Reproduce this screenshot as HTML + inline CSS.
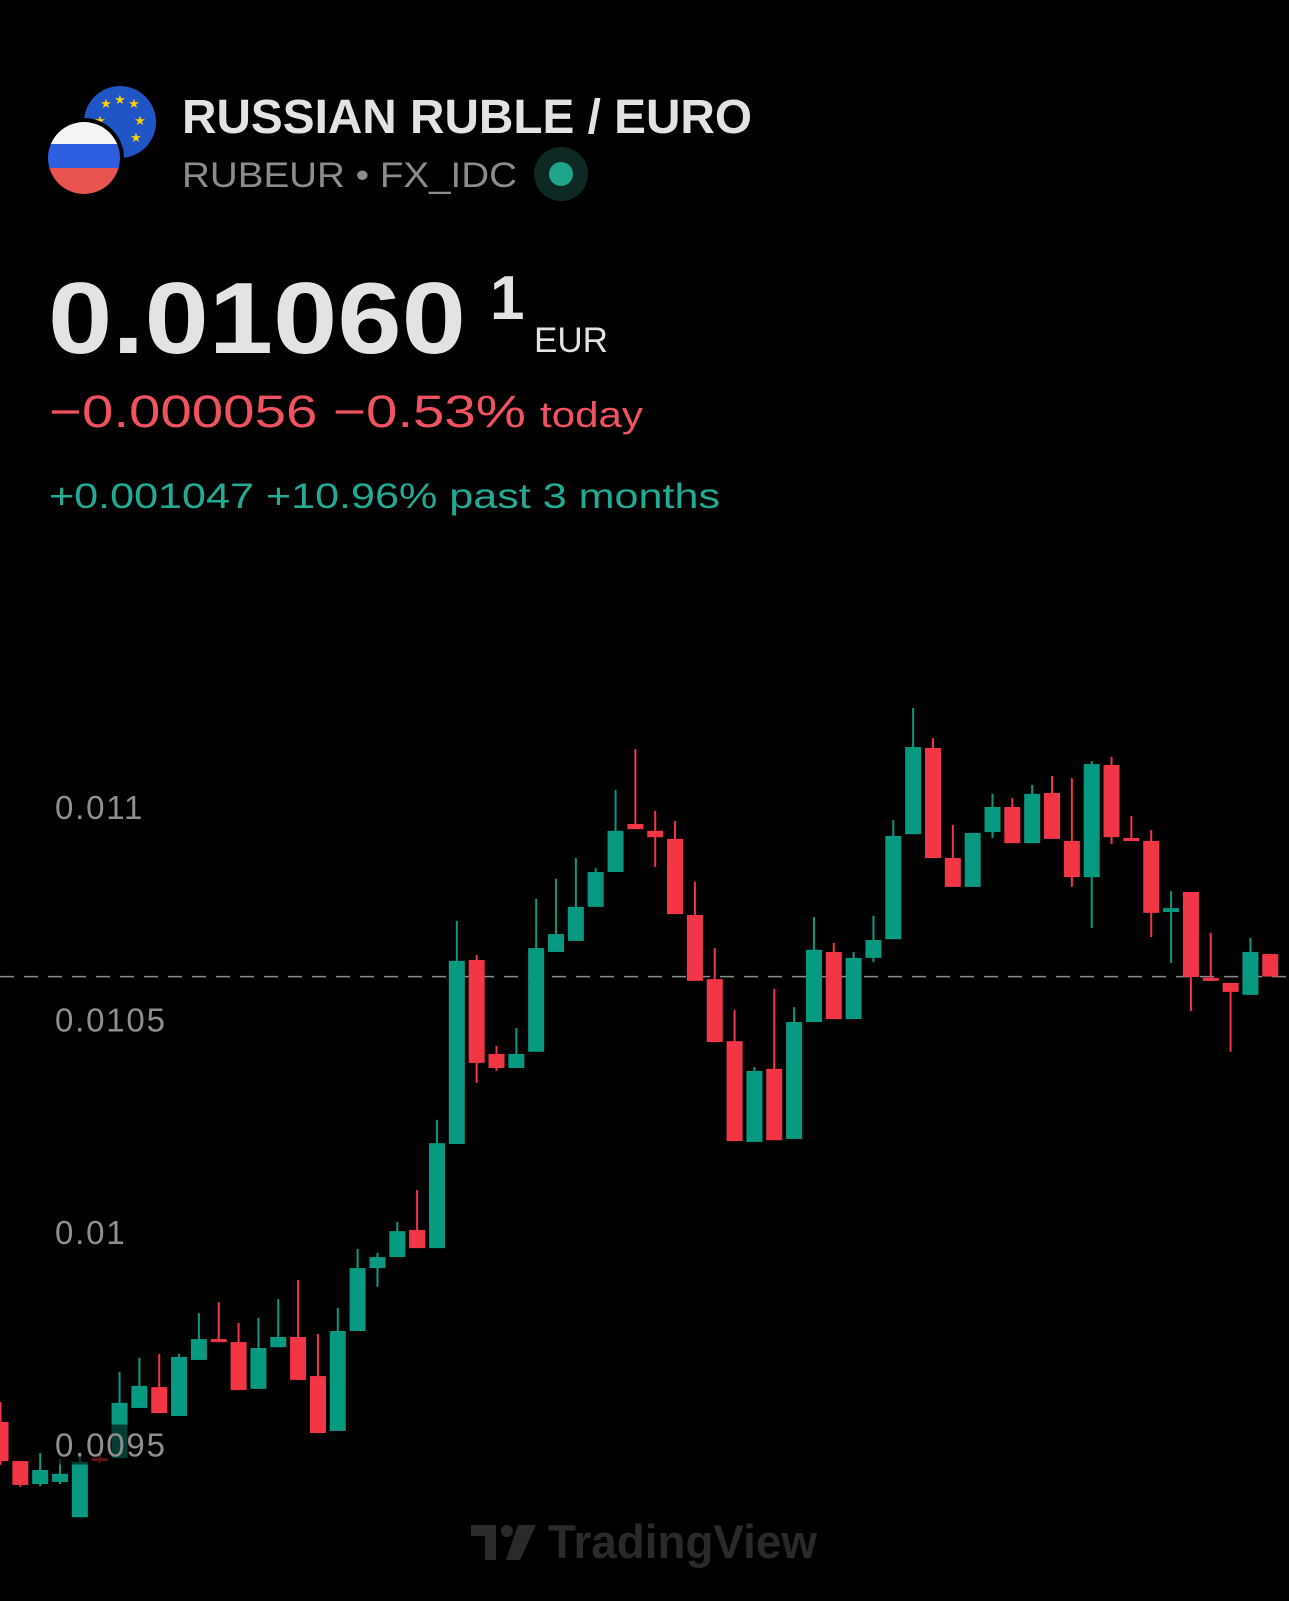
<!DOCTYPE html>
<html><head><meta charset="utf-8">
<style>
html,body{margin:0;padding:0;background:#000;}
body{width:1289px;height:1601px;overflow:hidden;position:relative;font-family:"Liberation Sans",sans-serif;}
.t{position:absolute;white-space:nowrap;line-height:1;}
</style></head>
<body>
<svg width="1289" height="1601" style="position:absolute;left:0;top:0" font-family="Liberation Sans,sans-serif">
  <g>
    <circle cx="120" cy="122" r="36" fill="#1f55c4"/>
    <g fill="#ffd200" font-size="13" font-family="DejaVu Sans,sans-serif" text-anchor="middle">
      <text x="120" y="104">★</text><text x="106" y="108">★</text><text x="134" y="108">★</text>
      <text x="140" y="125">★</text><text x="136" y="142">★</text><text x="100" y="125">★</text>
    </g>
    <circle cx="84" cy="158" r="40" fill="#000"/>
    <clipPath id="ru"><circle cx="84" cy="158" r="36"/></clipPath>
    <g clip-path="url(#ru)">
      <rect x="44" y="118" width="80" height="26" fill="#f4f4f4"/>
      <rect x="44" y="144" width="80" height="24" fill="#2e5fe0"/>
      <rect x="44" y="168" width="80" height="30" fill="#e8524f"/>
    </g>
  </g>
  <g>
    <circle cx="561" cy="174" r="27" fill="#0e2824"/>
    <circle cx="561" cy="174" r="12" fill="#1fa58c"/>
  </g>
  <text x="182" y="133" font-size="48" font-weight="bold" fill="#e3e3e3" textLength="570" lengthAdjust="spacingAndGlyphs">RUSSIAN RUBLE / EURO</text>
  <text x="182" y="187" font-size="35" fill="#8c8c8c" textLength="335" lengthAdjust="spacingAndGlyphs">RUBEUR  •  FX_IDC</text>
  <text x="48" y="353" font-size="101" font-weight="bold" fill="#e3e3e3" textLength="418" lengthAdjust="spacingAndGlyphs">0.01060</text>
  <text x="490" y="319" font-size="62" font-weight="bold" fill="#e3e3e3">1</text>
  <text x="534" y="352" font-size="35" fill="#e3e3e3" textLength="74" lengthAdjust="spacingAndGlyphs">EUR</text>
  <text x="49" y="427" font-size="45" fill="#f0525f" textLength="477" lengthAdjust="spacingAndGlyphs">−0.000056 −0.53%</text>
  <text x="540" y="427" font-size="36" fill="#f0525f" textLength="103" lengthAdjust="spacingAndGlyphs">today</text>
  <text x="49" y="508" font-size="35" fill="#22ab94" textLength="671" lengthAdjust="spacingAndGlyphs">+0.001047 +10.96% past 3 months</text>
  <g id="chart"></g>
  <g fill="#2a2a2a">
    <path d="M471 1525 H496 V1560 H485 V1536 H471 Z"/>
    <circle cx="507" cy="1531" r="6"/>
    <path d="M518 1525 H536 L520 1560 H506 Z"/>
    <text x="548" y="1558" font-size="47" font-weight="bold" textLength="269" lengthAdjust="spacingAndGlyphs">TradingView</text>
  </g>
</svg>

<script>
const opens  = [0.009553,0.009461,0.009407,0.009412,0.009329,0.009468,0.009468,0.009586,0.009635,0.009567,0.009699,0.009748,0.009741,0.009631,0.009729,0.009753,0.009661,0.009532,0.009767,0.009915,0.009941,0.010005,0.009962,0.010207,0.010640,0.010419,0.010386,0.010424,0.010659,0.010685,0.010765,0.010847,0.010960,0.010944,0.010925,0.010746,0.010595,0.010449,0.010212,0.010384,0.010219,0.010494,0.010659,0.010501,0.010645,0.010689,0.010936,0.011139,0.010880,0.010812,0.010941,0.011000,0.010915,0.011033,0.010920,0.010835,0.011099,0.010927,0.010920,0.010753,0.010800,0.010598,0.010586,0.010558,0.010654];
const highs  = [0.009600,0.009461,0.009480,0.009466,0.009480,0.009480,0.009671,0.009704,0.009713,0.009713,0.009809,0.009835,0.009786,0.009798,0.009842,0.009887,0.009760,0.009821,0.009960,0.009951,0.010024,0.010099,0.010264,0.010732,0.010652,0.010438,0.010480,0.010784,0.010831,0.010880,0.010856,0.011040,0.011136,0.010991,0.010967,0.010824,0.010668,0.010522,0.010388,0.010572,0.010529,0.010741,0.010680,0.010659,0.010744,0.010969,0.011233,0.011162,0.010958,0.010939,0.011031,0.011021,0.011052,0.011073,0.011068,0.011108,0.011118,0.010979,0.010946,0.010802,0.010800,0.010704,0.010586,0.010692,0.010654];
const lows   = [0.009452,0.009400,0.009402,0.009407,0.009329,0.009456,0.009468,0.009586,0.009574,0.009567,0.009699,0.009744,0.009628,0.009631,0.009729,0.009652,0.009527,0.009532,0.009767,0.009871,0.009941,0.009962,0.009962,0.010207,0.010351,0.010379,0.010386,0.010424,0.010659,0.010685,0.010765,0.010847,0.010948,0.010859,0.010748,0.010591,0.010447,0.010214,0.010212,0.010216,0.010219,0.010494,0.010501,0.010501,0.010635,0.010689,0.010936,0.010880,0.010812,0.010812,0.010927,0.010915,0.010915,0.010925,0.010812,0.010715,0.010913,0.010920,0.010694,0.010633,0.010520,0.010591,0.010424,0.010558,0.010601];
const closes = [0.009461,0.009405,0.009440,0.009431,0.009459,0.009464,0.009598,0.009638,0.009574,0.009706,0.009748,0.009744,0.009628,0.009727,0.009753,0.009652,0.009527,0.009767,0.009915,0.009941,0.010002,0.009962,0.010209,0.010638,0.010398,0.010386,0.010419,0.010668,0.010701,0.010765,0.010847,0.010944,0.010948,0.010929,0.010748,0.010591,0.010447,0.010214,0.010379,0.010216,0.010494,0.010664,0.010501,0.010645,0.010687,0.010932,0.011141,0.010880,0.010812,0.010939,0.011000,0.010915,0.011031,0.010925,0.010835,0.011101,0.010929,0.010920,0.010751,0.010762,0.010600,0.010591,0.010565,0.010659,0.010601];
const tickValues = [0.011,0.0105,0.01,0.0095];
const tickLabels = ["0.011","0.0105","0.01","0.0095"];

const NS="http://www.w3.org/2000/svg";
const chart=document.getElementById('chart');
function yScale(v){return 1232-(v-0.01)/0.0005*212.5;}
function xScale(i){return 0.5+i*19.84;}
const UP="#089981",DN="#f23645",BW=16;
function mk(tag,attrs){const e=document.createElementNS(NS,tag);for(const k in attrs)e.setAttribute(k,attrs[k]);return e;}

const lastY=yScale(closes[closes.length-1]);
const dash=mk('line',{x1:0,x2:1289,y1:lastY,y2:lastY,stroke:"#8a8a8a","stroke-width":1.5,"stroke-dasharray":"14 10"});


chart.appendChild(dash);

for(let i=0;i<opens.length;i++){
  const up=closes[i]>=opens[i];
  const col=up?UP:DN;
  const g=mk('g',{});
  
  
  const cx=xScale(i);
  const wick=mk('rect',{x:cx-1,y:yScale(highs[i]),width:2,height:Math.max(1,yScale(lows[i])-yScale(highs[i])),fill:col});
  
  
  const top=yScale(Math.max(opens[i],closes[i])),bot=yScale(Math.min(opens[i],closes[i]));
  const body=mk('rect',{x:cx-BW/2,y:top,width:BW,height:Math.max(3,bot-top),fill:col});
  
  
  g.appendChild(wick);g.appendChild(body);
  chart.appendChild(g);
}

for(let i=0;i<tickValues.length;i++){
  const y=yScale(tickValues[i]);
  const bg=mk('rect',{x:52,y:y-20,width:tickLabels[i].length*18.5+8,height:40,fill:"rgba(0,0,0,0.6)"});
  
  
  chart.appendChild(bg);
  const t=mk('text',{x:55,y:y+12,fill:"#8f8f8f","font-size":33,"letter-spacing":1.8});
  t.textContent=tickLabels[i];
  
  
  chart.appendChild(t);
}
</script>
</body></html>
